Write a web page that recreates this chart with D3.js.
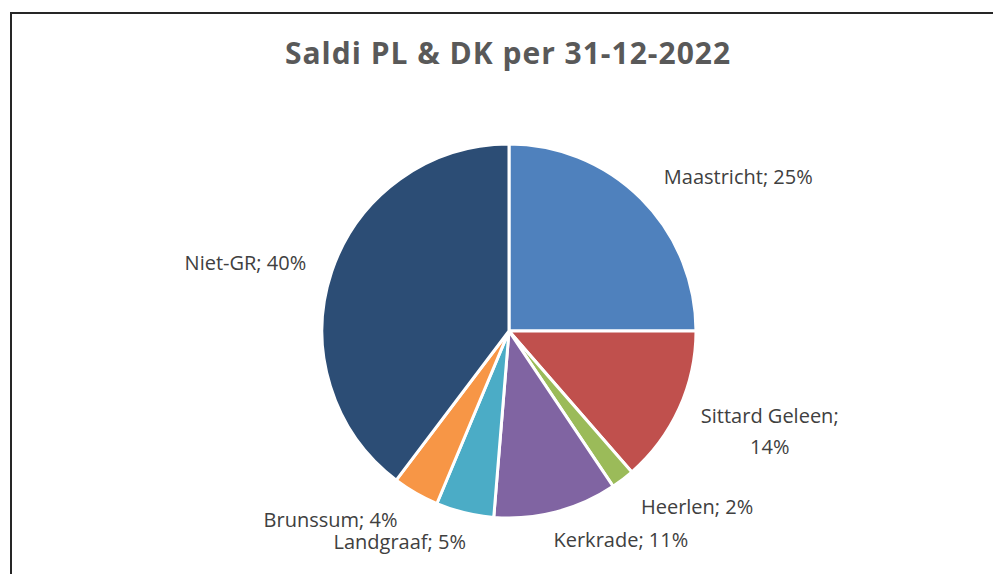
<!DOCTYPE html>
<html>
<head>
<meta charset="utf-8">
<script src="https://cdn.jsdelivr.net/npm/d3@7"></script>
<style>
  html, body { margin: 0; padding: 0; background: #fff; }
  svg { display: block; }
</style>
</head>
<body>
<div id="chart"></div>
<script>
// data
const categories = ["Maastricht", "Sittard Geleen", "Heerlen", "Kerkrade", "Landgraaf", "Brunssum", "Niet-GR"];
const shares = [25.0, 13.6, 2.0, 10.7, 5.0, 4.0, 39.7];
const sliceColors = ["#4F81BD", "#C0504D", "#9BBB59", "#8064A2", "#4BACC6", "#F79646", "#2C4D75"];
const titleText = "Saldi PL & DK per 31-12-2022";

const width = 993, height = 574;
const cx = 509, cy = 331, radius = 187;

// nudges for the data labels, relative to a point on an outer arc
const labelNudge = {
  "Maastricht": [64, 18],
  "Sittard Geleen": [48, -5],
  "Heerlen": [46, -3],
  "Kerkrade": [53, -10],
  "Landgraaf": [-54, -9],
  "Brunssum": [-62, -7],
  "Niet-GR": [-42, 13]
};

const data = categories.map((c, i) => ({ name: c, value: shares[i], color: sliceColors[i] }));

const svg = d3.select("#chart").append("svg")
  .attr("width", width)
  .attr("height", height);

svg.append("rect")
  .attr("width", width)
  .attr("height", height)
  .attr("fill", "#fff");

// chart area frame
svg.append("rect")
  .attr("x", 11)
  .attr("y", 13)
  .attr("width", width + 20)
  .attr("height", height + 20)
  .attr("fill", "none")
  .attr("stroke", "#262626")
  .attr("stroke-width", 2);

svg.append("text")
  .attr("x", 508)
  .attr("y", 64)
  .attr("text-anchor", "middle")
  .style("font-family", "'Open Sans', sans-serif")
  .style("font-weight", "bold")
  .style("font-size", "30px")
  .style("letter-spacing", "1px")
  .attr("fill", "#595959")
  .text(titleText);

const pie = d3.pie().sort(null).value(d => d.value);
const arc = d3.arc().innerRadius(0).outerRadius(radius);
const labelArc = d3.arc().innerRadius(radius * 1.25).outerRadius(radius * 1.25);

const g = svg.append("g").attr("transform", `translate(${cx},${cy})`);
const arcs = pie(data);

g.selectAll("path")
  .data(arcs)
  .join("path")
  .attr("d", arc)
  .attr("fill", d => d.data.color)
  .attr("stroke", "#fff")
  .attr("stroke-width", 3)
  .attr("stroke-linejoin", "round");

const fmt = v => Math.round(v) + "%";

const labels = g.selectAll("text.lbl")
  .data(arcs)
  .join("text")
  .attr("class", "lbl")
  .attr("text-anchor", "middle")
  .style("font-family", "'Open Sans', sans-serif")
  .style("font-size", "20px")
  .attr("fill", "#404040")
  .attr("transform", d => {
    const [x, y] = labelArc.centroid(d);
    const n = labelNudge[d.data.name];
    return `translate(${x + n[0]},${y + n[1]})`;
  });

labels.each(function (d) {
  const t = d3.select(this);
  if (d.data.name === "Sittard Geleen") {
    t.append("tspan").attr("x", 0).attr("y", 0).text(d.data.name + ";");
    t.append("tspan").attr("x", 0).attr("y", 31).text(fmt(d.data.value));
  } else {
    t.text(d.data.name + "; " + fmt(d.data.value));
  }
});
</script>
</body>
</html>
